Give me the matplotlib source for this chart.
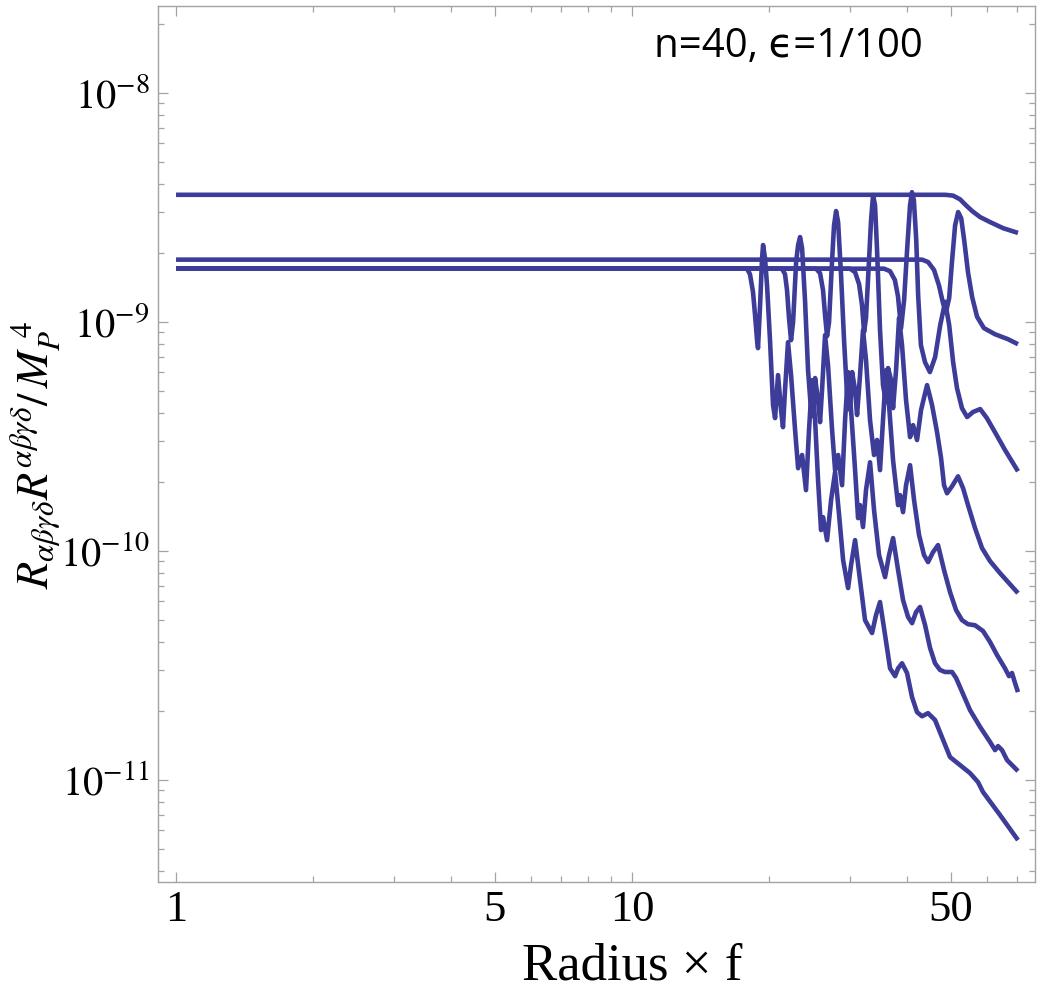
import matplotlib
matplotlib.use('Agg')
import matplotlib.pyplot as plt
from matplotlib.ticker import FixedLocator, FixedFormatter, NullFormatter
import numpy as np

plt.rcParams['mathtext.fontset'] = 'stix'
plt.rcParams['font.family'] = ['Liberation Serif', 'DejaVu Serif']

# ---------------- data (radius, invariant in units of 1e-10 M_P^4) ----------------
A_x = [1.0, 48.6, 50.6, 52.4, 54.0, 55.7, 58.0, 61.0, 65.1, 70.2]
A_y = [35.8, 35.8, 35.5, 34.2, 32.2, 30.4, 28.6, 27.2, 25.6, 24.4]

B_x = [1.0, 43.25, 44.6, 45.95, 47.1, 48.1, 48.8, 49.6, 50.3, 51.1, 51.9, 52.7, 53.5,
       54.55, 55.7, 57.1, 59.1, 62.5, 66.75, 70.2]
B_y = [18.65, 18.65, 18.2, 16.8, 14.4, 12.0, 11.0, 12.7, 18.2, 26.3, 30.1, 28.3, 22.7,
       16.4, 12.8, 10.5, 9.37, 8.81, 8.38, 7.97]

C5_x = [1.0, 35.7, 36.8, 37.7, 38.3, 38.9, 39.5, 40.1, 40.7, 41.1, 41.5, 42.0, 42.4, 43.0,
        43.9, 45.0, 46.2, 47.4, 48.6, 49.6, 50.6, 51.6, 52.9, 54.3, 55.95, 58.0, 60.0, 62.5,
        65.75, 70.2]
C5_y = [17.03, 17.03, 16.6, 15.2, 12.9, 9.37, 12.4, 20.5, 32.2, 36.75, 33.9, 22.7, 13.1,
        7.89, 6.65, 6.02, 7.0, 9.65, 12.2, 9.65, 6.65, 5.12, 4.19, 3.83, 4.03, 4.15, 3.79,
        3.29, 2.75, 2.22]

C4_x = [1.0, 30.07, 30.84, 31.47, 31.94, 32.27, 32.59, 33.09, 33.43, 33.77, 34.11, 34.46,
        34.98, 35.51, 36.06, 36.43, 36.99, 37.36, 37.93, 38.51, 39.09, 39.89, 40.71, 41.33,
        42.17, 43.03, 44.36, 45.49, 46.65, 47.60, 48.33, 49.06, 50.32, 51.87, 53.19, 54.55,
        56.51, 58.55, 60.96, 64.12, 67.43, 70.2]
C4_y = [17.03, 17.03, 16.44, 14.57, 11.8, 9.0, 10.37, 18.56, 27.7, 35.7, 32.2, 20.5, 9.18,
        5.28, 4.45, 6.27, 5.55, 4.19, 6.14, 10.37, 7.89, 4.54, 3.13, 3.53, 3.04, 4.11, 5.28,
        4.32, 3.29, 2.54, 1.93, 1.78, 1.91, 2.11, 1.875, 1.58, 1.254, 1.025, 0.90, 0.797,
        0.713, 0.652]

C3_x = [1.0, 25.33, 25.84, 26.23, 26.50, 26.77, 27.04, 27.46, 27.73, 28.02, 28.31, 28.73,
        29.17, 29.62, 30.07, 30.38, 30.84, 31.15, 31.62, 32.10, 32.59, 33.26, 33.94, 34.46,
        34.98, 35.51, 36.06, 36.61, 37.36, 38.32, 38.70, 39.29, 39.89, 40.71, 41.54, 42.60,
        43.68, 44.58, 45.72, 46.88, 48.33, 49.81, 51.35, 52.92, 54.55, 56.51, 58.84, 60.96,
        63.15, 65.75, 67.09, 68.11, 69.16, 70.2]
C3_y = [17.03, 17.03, 16.28, 13.73, 10.68, 8.64, 9.95, 18.56, 26.3, 30.4, 27.15, 15.96,
        8.30, 4.77, 4.11, 6.02, 5.02, 3.91, 5.84, 9.18, 6.79, 3.71, 2.615, 3.04, 2.246, 3.71,
        6.14, 4.32, 2.48, 1.58, 1.747, 1.472, 1.93, 2.36, 1.661, 1.169, 0.956, 0.891, 0.985,
        1.057, 0.822, 0.659, 0.550, 0.497, 0.477, 0.472, 0.4455, 0.399, 0.350, 0.306, 0.283,
        0.292, 0.264, 0.241]

C2_x = [1.0, 21.32, 21.65, 21.87, 22.09, 22.32, 22.55, 22.90, 23.13, 23.36, 23.60, 23.95,
        24.32, 24.69, 24.94, 25.20, 25.58, 25.84, 26.10, 26.50, 26.90, 27.46, 27.88, 28.31,
        28.88, 29.32, 29.77, 30.22, 30.84, 31.31, 31.62, 32.10, 32.59, 33.26, 33.94, 34.81,
        35.88, 36.61, 37.36, 38.32, 39.29, 40.30, 41.12, 41.96, 42.81, 43.91, 45.03, 46.18,
        47.36, 48.57, 50.32, 51.35, 52.39, 55.11, 57.96, 60.96, 62.52, 63.47, 64.77, 66.42,
        70.2]
C2_y = [17.03, 17.03, 16.11, 13.73, 10.37, 8.30, 9.95, 18.19, 21.6, 23.4, 20.9, 12.41,
        6.14, 4.11, 3.87, 5.67, 4.54, 3.64, 5.02, 8.73, 6.46, 3.36, 2.246, 2.615, 1.93, 3.71,
        6.02, 4.11, 2.246, 1.386, 1.58, 1.267, 1.837, 2.43, 1.502, 0.956, 0.766, 0.956, 1.134,
        0.822, 0.608, 0.513, 0.482, 0.539, 0.567, 0.473, 0.376, 0.322, 0.301, 0.295, 0.295,
        0.278, 0.2535, 0.201, 0.170, 0.146, 0.1345, 0.140, 0.1345, 0.1217, 0.1089]

C1_x = [1.0, 17.87, 18.14, 18.42, 18.61, 18.80, 18.89, 19.09, 19.28, 19.38, 19.57, 19.77,
        20.07, 20.38, 20.59, 20.90, 21.22, 21.43, 21.65, 21.98, 22.32, 22.78, 23.13, 23.60,
        24.07, 24.44, 24.82, 25.20, 25.58, 25.97, 26.23, 26.77, 27.32, 27.88, 28.45, 29.03,
        29.77, 30.22, 30.84, 31.62, 32.43, 33.60, 34.28, 34.98, 35.88, 36.80, 37.74, 38.32,
        39.09, 40.09, 41.12, 42.17, 43.25, 44.58, 46.18, 47.84, 49.81, 52.39, 55.11, 57.37,
        58.84, 64.12, 70.2]
C1_y = [17.03, 17.03, 16.11, 13.46, 10.68, 8.30, 7.66, 11.8, 18.9, 21.6, 18.9, 14.44, 8.30,
        4.32, 3.79, 5.84, 4.11, 3.46, 5.02, 8.13, 5.84, 3.36, 2.29, 2.615, 1.837, 3.36, 5.55,
        3.71, 2.031, 1.229, 1.40, 1.111, 1.661, 2.20, 1.428, 0.909, 0.686, 0.864, 1.111,
        0.743, 0.497, 0.4365, 0.523, 0.596, 0.428, 0.306, 0.283, 0.306, 0.322, 0.292, 0.229,
        0.197, 0.189, 0.195, 0.182, 0.153, 0.1254, 0.1157, 0.1067, 0.0975, 0.0882, 0.070,
        0.0544]

Y_UNIT = 1e-10

x_major = [1, 5, 10, 50]
x_major_labels = ['1', '5', '10', '50']
x_minor = [2, 3, 4, 6, 7, 8, 9, 20, 30, 40, 60, 70]
y_major = [1e-11, 1e-10, 1e-9, 1e-8]
y_major_labels = [r'$10^{-11}$', r'$10^{-10}$', r'$10^{-9}$', r'$10^{-8}$']
y_minor = [m * d for d in [1e-12, 1e-11, 1e-10, 1e-9, 1e-8] for m in range(2, 10)]

annotation = 'n=40, \u03f5=1/100'
xlabel = 'Radius \u00d7 f'
ylabel = r'$R_{\alpha\beta\gamma\delta}R^{\alpha\beta\gamma\delta}/\,M_P^{\ 4}$'

LINE = '#3d3c99'
FRAME = '#a3a3a3'

# ---------------- figure ----------------
W, H = 1042, 998
fig = plt.figure(figsize=(W / 100, H / 100), dpi=100)
ax = fig.add_axes([158 / W, (H - 882) / H, (1035 - 158) / W, (882 - 6) / H])

curves = [(A_x, A_y), (B_x, B_y), (C5_x, C5_y), (C4_x, C4_y),
          (C3_x, C3_y), (C2_x, C2_y), (C1_x, C1_y)]
for xs, ys in curves:
    ax.plot(xs, np.asarray(ys) * Y_UNIT, color=LINE, lw=3.3,
            solid_joinstyle='round', solid_capstyle='butt')

ax.set_xscale('log')
ax.set_yscale('log')
ax.set_xlim(0.913, 76.5)
ax.set_ylim(3.57e-12, 2.39e-8)

ax.xaxis.set_major_locator(FixedLocator(x_major))
ax.xaxis.set_major_formatter(FixedFormatter(x_major_labels))
ax.xaxis.set_minor_locator(FixedLocator(x_minor))
ax.xaxis.set_minor_formatter(NullFormatter())
ax.yaxis.set_major_locator(FixedLocator(y_major))
ax.yaxis.set_major_formatter(FixedFormatter(y_major_labels))
ax.yaxis.set_minor_locator(FixedLocator(y_minor))
ax.yaxis.set_minor_formatter(NullFormatter())

for s in ax.spines.values():
    s.set_color(FRAME)
    s.set_linewidth(1.0)
ax.tick_params(which='both', direction='in', top=True, right=True, color=FRAME, width=0.9)
ax.tick_params(which='major', length=7)
ax.tick_params(which='minor', length=4)
ax.tick_params(axis='x', which='major', labelsize=32, pad=6)
ax.tick_params(axis='y', which='major', labelsize=29, pad=6)

fig.text(788 / W, 1 - 47 / H, annotation, family=['Open Sans', 'DejaVu Sans'],
         fontsize=29, ha='center', va='center')
fig.text(632 / W, 1 - 967 / H, xlabel, fontsize=38, ha='center', va='center')
fig.text(35 / W, 1 - 455 / H, ylabel, fontsize=32, rotation=90, ha='center', va='center')

fig.savefig('out.png', dpi=100)
